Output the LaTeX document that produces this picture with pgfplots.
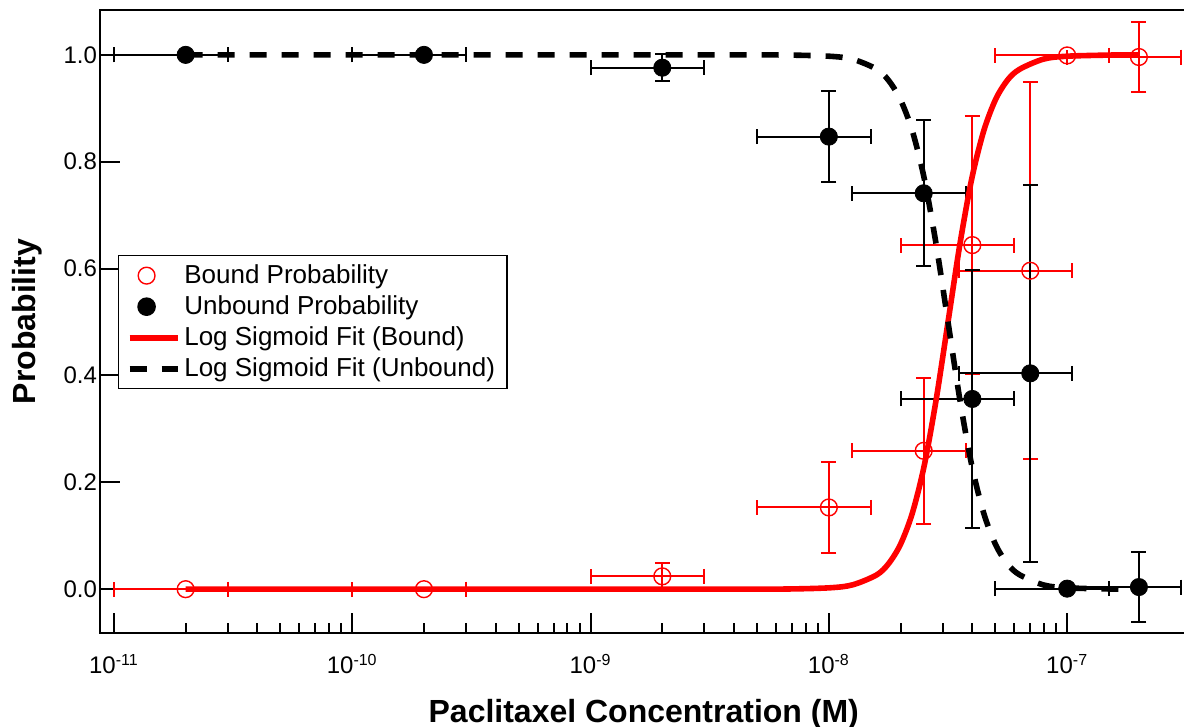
\documentclass[border=0pt]{standalone}
\usepackage{fontspec}
\setmainfont{Liberation Sans}
\usepackage{pgfplots}
\pgfplotsset{compat=1.18}
\pgfplotsset{linelegend/.style={legend image code/.code={\draw[##1] (0pt,0pt) -- (24pt,0pt);}}}

\begin{document}
\begin{tikzpicture}
\begin{axis}[
    scale only axis,
    width=543.8pt, height=311.5pt,
    xmode=log,
    xmin=8.74e-12, xmax=3.2e-7,
    ymin=-0.082, ymax=1.084,
    axis line style={line width=1pt},
    tick align=inside,
    xtick pos=bottom, ytick pos=left,
    major tick length=10pt, minor tick length=5pt,
    every tick/.style={black, line width=1pt},
    xtick={1e-11,1e-10,1e-9,1e-8,1e-7},
    xticklabels={10\textsuperscript{-11},10\textsuperscript{-10},10\textsuperscript{-9},10\textsuperscript{-8},10\textsuperscript{-7}},
    ytick={0,0.2,0.4,0.6,0.8,1.0},
    yticklabel style={/pgf/number format/fixed, /pgf/number format/precision=1,
        /pgf/number format/fixed zerofill, /pgf/number format/assume math mode=true,
        xshift=2pt},
    tick label style={font=\fontsize{12}{14}\selectfont},
    xticklabel style={yshift=-7pt},
    xlabel={\bfseries Paclitaxel Concentration (M)},
    ylabel={\bfseries Probability},
    label style={font=\fontsize{16}{18}\selectfont},
    xlabel style={at={(axis description cs:0.5,-0.13)}, anchor=center},
    ylabel style={at={(axis description cs:-0.067,0.5)}, anchor=center},
    legend style={at={(axis description cs:0.0166,0.6067)}, anchor=north west,
        draw=black, line width=0.7pt, font=\fontsize{13}{15.5}\selectfont,
        row sep=0.6pt, inner xsep=4pt, inner ysep=2.5pt},
    legend cell align=left,
]
\coordinate (o) at (rel axis cs:0,0);

% bound probability
\addplot[only marks, red, mark=o, mark size=4.2pt, mark options={line width=0.7pt},
    error bars/.cd, x dir=both, x explicit, y dir=both, y explicit,
    error mark=-,
    error bar style={red, line width=1pt},
    error mark options={rotate=90, red, line width=1pt, mark size=3.75pt}]
coordinates {
(2e-11, 0.0)   +- (1e-11, 0)
(2e-10, 0.0)   +- (1e-10, 0)
(2e-9, 0.024)  +- (1e-9, 0.025)
(1e-8, 0.153)  +- (5e-9, 0.085)
(2.5e-8, 0.259) +- (1.25e-8, 0.137)
(4e-8, 0.644)  +- (2e-8, 0.241)
(7e-8, 0.596)  +- (3.5e-8, 0.353)
(1e-7, 0.999)  +- (5e-8, 0)
(2e-7, 0.996)  +- (1e-7, 0.066)
};
\addlegendentry{Bound Probability}

% unbound probability
\addplot[only marks, black, mark=*, mark size=4.3pt,
    error bars/.cd, x dir=both, x explicit, y dir=both, y explicit,
    error mark=-,
    error bar style={black, line width=1pt},
    error mark options={rotate=90, black, line width=1pt, mark size=3.75pt}]
coordinates {
(2e-11, 1.0)   +- (1e-11, 0)
(2e-10, 1.0)   +- (1e-10, 0)
(2e-9, 0.976)  +- (1e-9, 0.025)
(1e-8, 0.847)  +- (5e-9, 0.085)
(2.5e-8, 0.741) +- (1.25e-8, 0.137)
(4e-8, 0.356)  +- (2e-8, 0.241)
(7e-8, 0.404)  +- (3.5e-8, 0.353)
(1e-7, 0.001)  +- (5e-8, 0)
(2e-7, 0.004)  +- (1e-7, 0.066)
};
\addlegendentry{Unbound Probability}

% fits
\addplot[red, line width=2.8pt, no marks, smooth, linelegend] coordinates {
(2e-11,0) (1e-9,0) (3.162e-9,0.00001) (6.310e-9,0.0002) (1e-8,0.0025)
(1.259e-8,0.0082) (1.585e-8,0.0266) (1.778e-8,0.0474) (1.995e-8,0.0832)
(2.239e-8,0.142) (2.512e-8,0.231) (2.818e-8,0.354) (3.162e-8,0.5)
(3.548e-8,0.646) (3.981e-8,0.769) (4.467e-8,0.858) (5.012e-8,0.917)
(5.623e-8,0.953) (6.310e-8,0.973) (7.943e-8,0.992) (1e-7,0.9975)
(1.585e-7,0.9998) (2e-7,1)
};
\addlegendentry{Log Sigmoid Fit (Bound)}

\addplot[black, line width=2.8pt, no marks, smooth, dash pattern=on 8.5pt off 7.5pt, linelegend] coordinates {
(2e-11,1) (1e-9,1) (3.162e-9,0.99999) (6.310e-9,0.9998) (1e-8,0.9975)
(1.259e-8,0.9918) (1.585e-8,0.9734) (1.778e-8,0.9526) (1.995e-8,0.9168)
(2.239e-8,0.858) (2.512e-8,0.769) (2.818e-8,0.646) (3.162e-8,0.5)
(3.548e-8,0.354) (3.981e-8,0.231) (4.467e-8,0.142) (5.012e-8,0.083)
(5.623e-8,0.047) (6.310e-8,0.027) (7.943e-8,0.008) (1e-7,0.0025)
(1.585e-7,0.0002) (2e-7,0)
};
\addlegendentry{Log Sigmoid Fit (Unbound)}
\end{axis}
\pgfresetboundingbox
\path[use as bounding box] (o) ++(-50pt,-47pt) rectangle ++(592pt,363.5pt);
\end{tikzpicture}
\end{document}
